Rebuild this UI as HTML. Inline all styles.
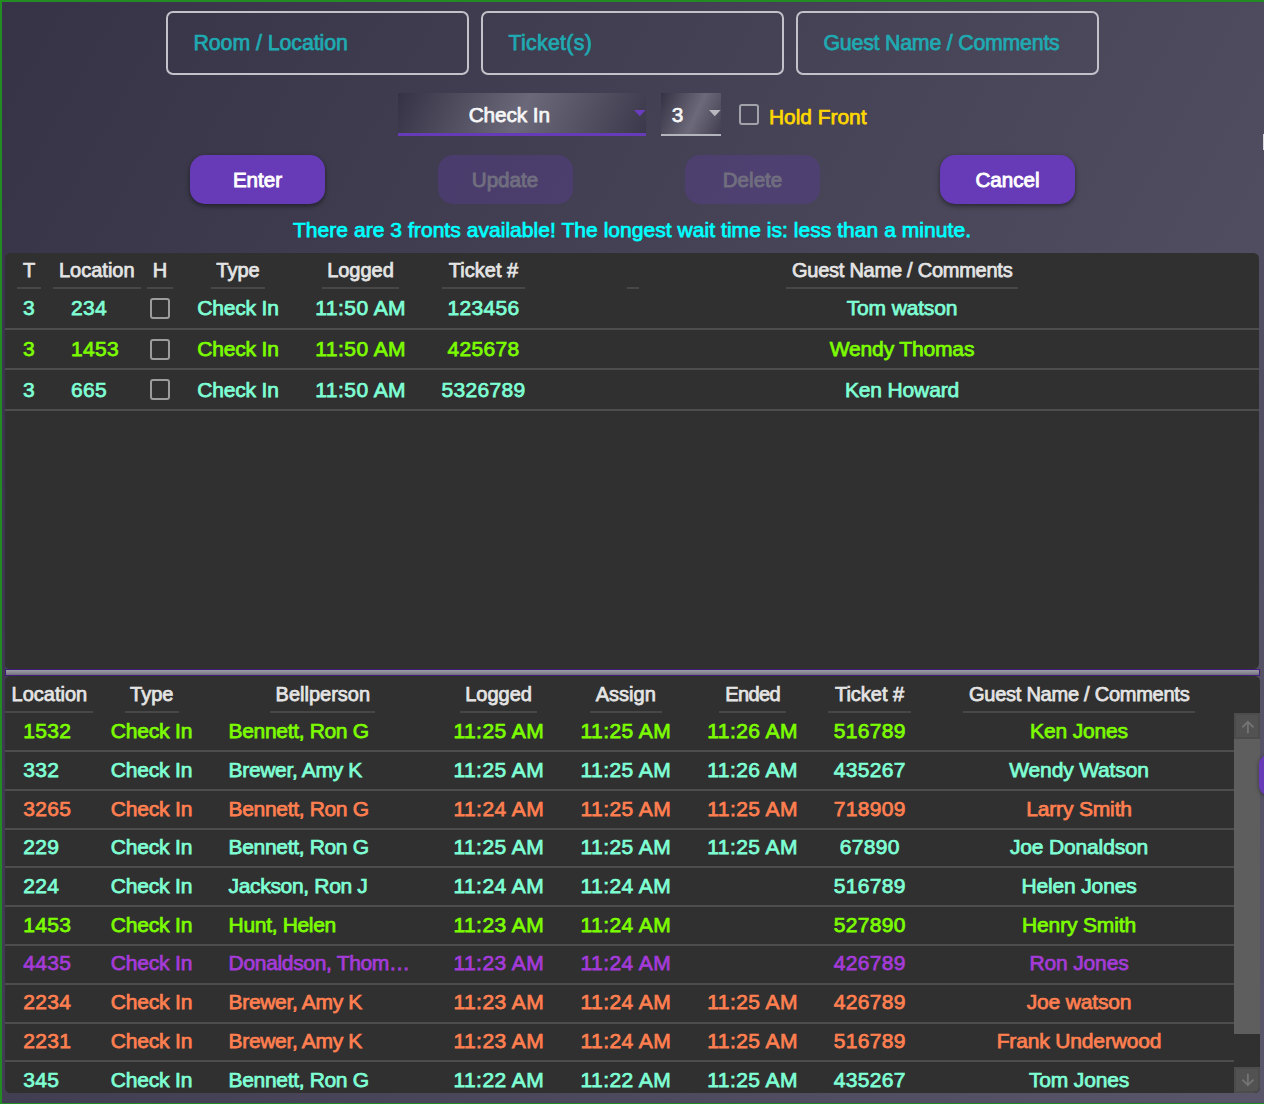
<!DOCTYPE html>
<html><head><meta charset="utf-8"><title>Bell Desk</title>
<style>
html,body{margin:0;padding:0}
body{width:1264px;height:1104px;overflow:hidden;position:relative;background:#228b22;font-family:"Liberation Sans",sans-serif;}
#bg{position:absolute;left:2px;top:2px;width:1262px;height:1101px;background:linear-gradient(119deg,#353345,#585668);box-shadow:inset 1px 1px 0 rgba(90,40,130,.22),inset 0 -1px 0 rgba(90,40,130,.22);}
.t{position:absolute;white-space:nowrap;font-size:21px;line-height:24px;-webkit-text-stroke:0.75px currentColor;letter-spacing:-0.15px}
.n{letter-spacing:0.3px}.tm{letter-spacing:0.45px}.bp{letter-spacing:-0.33px}
.t.c{transform:translate(-50%,-50%);}
.t.l{transform:translate(0,-50%);}
.h{color:#e4e4e4;font-size:20px;-webkit-text-stroke:0.75px currentColor;letter-spacing:0}
.e1{letter-spacing:-0.6px}.g1{letter-spacing:-0.25px}
.aq{color:#7fffd4}.gr{color:#7cfc00}.co{color:#ff7f50}.pu{color:#a43bd8}
.panel{position:absolute;background:#303030;border-radius:5.5px;}
.ul{position:absolute;height:2px;background:#474747;}
.sep{position:absolute;height:2px;background:#4d4d4d;}
.cb{position:absolute;width:16px;height:16.6px;border:2px solid #9c9c9c;border-radius:3px;}
.inp{position:absolute;top:10.5px;width:299.6px;height:60.6px;border:2px solid #c3c1c9;border-radius:7px;}
.ph{color:#1faab2;font-size:21.3px;letter-spacing:-0.05px}
.btn{position:absolute;top:155.3px;width:135px;height:48.4px;border-radius:15px;background:#673ab7;box-shadow:0 2px 5px rgba(0,0,0,.45);}
.btn.dis{background:rgba(100,60,175,.3);box-shadow:none;}
.bt{color:#fff;font-size:20.6px;-webkit-text-stroke:0.9px currentColor;letter-spacing:0}
.bt.d{color:#706e7f;}
</style></head><body>
<div id="bg"></div>

<div class="inp" style="left:165.5px"></div>
<div class="inp" style="left:480.5px"></div>
<div class="inp" style="left:795.5px"></div>
<span class="t l ph" style="left:193.5px;top:43px">Room / Location</span>
<span class="t l ph" style="left:508.5px;top:43px;letter-spacing:0.3px">Ticket(s)</span>
<span class="t l ph" style="left:823.5px;top:43px;letter-spacing:-0.2px">Guest Name / Comments</span>

<div style="position:absolute;left:398px;top:93px;width:248px;height:40px;background:linear-gradient(115deg,#343244 0%,#6b6979 50%,#3a384a 100%);border-bottom:3px solid #673ab7"></div>
<span class="t c" style="left:509.3px;top:114.5px;color:#f6f6f6;font-size:20.8px;letter-spacing:-0.1px">Check In</span>
<svg style="position:absolute;left:634px;top:110px" width="12" height="7"><path d="M0 0h11.6L5.8 6.2z" fill="#6a3cc0"/></svg>
<div style="position:absolute;left:661px;top:93px;width:60px;height:41px;background:linear-gradient(115deg,#343244 0%,#6c6a7a 57%,#403e50 100%);border-bottom:2px solid #b4b4bc"></div>
<span class="t c" style="left:677.5px;top:114.5px;color:#f6f6f6;font-size:20.8px">3</span>
<svg style="position:absolute;left:709px;top:110px" width="12" height="7"><path d="M0 0h11.6L5.8 6.2z" fill="#b8b8be"/></svg>
<i class="cb" style="left:739px;top:104.2px;height:16.8px;border-color:#a2a2aa"></i>
<span class="t l" style="left:769px;top:116.5px;color:#ffd700;font-size:20.9px;letter-spacing:0">Hold Front</span>

<div class="btn" style="left:189.5px"></div><span class="t c bt" style="left:257.5px;top:180px">Enter</span>
<div class="btn dis" style="left:437.5px"></div><span class="t c bt d" style="left:505px;top:180px">Update</span>
<div class="btn dis" style="left:684.5px"></div><span class="t c bt d" style="left:752.5px;top:180px">Delete</span>
<div class="btn" style="left:939.5px"></div><span class="t c bt" style="left:1007.5px;top:180px">Cancel</span>

<span class="t c" style="left:632px;top:230px;color:#00ffff;font-size:21px;letter-spacing:0.05px">There are 3 fronts available! The longest wait time is: less than a minute.</span>

<div class="panel" style="left:5px;top:252.7px;width:1254.3px;height:416px"></div>
<div style="position:absolute;left:5px;top:669px;width:1255px;height:7px;background:linear-gradient(#9c9ca8,#8a8a96 50%,#6e6e7a);border:1px solid #431c78;box-sizing:border-box"></div>
<div class="panel" style="left:5px;top:676.3px;width:1255px;height:416.7px"></div>

<!-- scrollbar -->
<div style="position:absolute;left:1234px;top:713px;width:26px;height:26px;background:#525252;border:2px solid #4c4c4c;box-sizing:border-box"></div>
<div style="position:absolute;left:1234px;top:739px;width:26px;height:294.5px;background:#5e5e5e"></div>
<div style="position:absolute;left:1234px;top:1067px;width:26px;height:26px;background:#525252;border:2px solid #4c4c4c;box-sizing:border-box;border-radius:0 0 6px 0"></div>
<svg style="position:absolute;left:1240px;top:719px" width="16" height="16" fill="none" stroke="#737373" stroke-width="1.9"><path d="M7.9 14.2V2.8M2.3 8.4l5.6-5.6 5.6 5.6"/></svg>
<svg style="position:absolute;left:1240px;top:1072px" width="16" height="16" fill="none" stroke="#737373" stroke-width="1.9"><path d="M7.9 1.8v11.4M2.3 7.6l5.6 5.6 5.6-5.6"/></svg>

<!-- peeking button at right -->
<div style="position:absolute;left:1259.4px;top:755px;width:40px;height:40px;border-radius:9px;background:#673ab7;box-shadow:0 1px 4px rgba(0,0,0,.4)"></div>
<div style="position:absolute;left:1263px;top:134px;width:1px;height:16px;background:#d8d8de"></div>

<span class="t c h" style="left:29px;top:270px">T</span>
<span class="t l h" style="left:59px;top:270px">Location</span>
<span class="t c h" style="left:160px;top:270px">H</span>
<span class="t c h" style="left:238px;top:270px">Type</span>
<span class="t c h" style="left:360.5px;top:270px">Logged</span>
<span class="t c h" style="left:483.5px;top:270px">Ticket #</span>
<span class="t c h g1" style="left:902.2px;top:270px">Guest Name / Comments</span>
<i class="ul" style="left:17px;width:24px;top:287.2px"></i>
<i class="ul" style="left:53px;width:88px;top:287.2px"></i>
<i class="ul" style="left:147px;width:26px;top:287.2px"></i>
<i class="ul" style="left:211px;width:54px;top:287.2px"></i>
<i class="ul" style="left:322px;width:77px;top:287.2px"></i>
<i class="ul" style="left:442px;width:83px;top:287.2px"></i>
<i class="ul" style="left:627px;width:12px;top:287.2px"></i>
<i class="ul" style="left:786px;width:232px;top:287.2px"></i>
<span class="t c aq n" style="left:29px;top:308.3px">3</span>
<span class="t l aq n" style="left:71px;top:308.3px">234</span>
<i class="cb" style="left:150px;top:298.1px"></i>
<span class="t c aq" style="left:238px;top:308.3px">Check In</span>
<span class="t c aq tm" style="left:360.7px;top:308.3px">11:50 AM</span>
<span class="t c aq n" style="left:483.5px;top:308.3px">123456</span>
<span class="t c aq" style="left:902px;top:308.3px">Tom watson</span>
<span class="t c gr n" style="left:29px;top:349.2px">3</span>
<span class="t l gr n" style="left:71px;top:349.2px">1453</span>
<i class="cb" style="left:150px;top:339.0px"></i>
<span class="t c gr" style="left:238px;top:349.2px">Check In</span>
<span class="t c gr tm" style="left:360.7px;top:349.2px">11:50 AM</span>
<span class="t c gr n" style="left:483.5px;top:349.2px">425678</span>
<span class="t c gr" style="left:902px;top:349.2px">Wendy Thomas</span>
<span class="t c aq n" style="left:29px;top:389.5px">3</span>
<span class="t l aq n" style="left:71px;top:389.5px">665</span>
<i class="cb" style="left:150px;top:379.3px"></i>
<span class="t c aq" style="left:238px;top:389.5px">Check In</span>
<span class="t c aq tm" style="left:360.7px;top:389.5px">11:50 AM</span>
<span class="t c aq n" style="left:483.5px;top:389.5px">5326789</span>
<span class="t c aq" style="left:902px;top:389.5px">Ken Howard</span>
<i class="sep" style="left:5px;width:1254px;top:328px"></i>
<i class="sep" style="left:5px;width:1254px;top:368px"></i>
<i class="sep" style="left:5px;width:1254px;top:408.6px"></i>
<span class="t l h" style="left:11.6px;top:694px">Location</span>
<span class="t c h" style="left:151.8px;top:694px">Type</span>
<span class="t c h" style="left:322.8px;top:694px">Bellperson</span>
<span class="t c h" style="left:498.6px;top:694px">Logged</span>
<span class="t c h" style="left:625.8px;top:694px">Assign</span>
<span class="t c h e1" style="left:752.6px;top:694px">Ended</span>
<span class="t c h" style="left:869.6px;top:694px">Ticket #</span>
<span class="t c h g1" style="left:1079.2px;top:694px">Guest Name / Comments</span>
<i class="ul" style="left:5px;width:88px;top:711.2px"></i>
<i class="ul" style="left:125px;width:54px;top:711.2px"></i>
<i class="ul" style="left:270px;width:105px;top:711.2px"></i>
<i class="ul" style="left:460px;width:77px;top:711.2px"></i>
<i class="ul" style="left:590px;width:72px;top:711.2px"></i>
<i class="ul" style="left:719px;width:67px;top:711.2px"></i>
<i class="ul" style="left:828px;width:83px;top:711.2px"></i>
<i class="ul" style="left:963px;width:232px;top:711.2px"></i>
<span class="t l gr n" style="left:23.3px;top:731.1px">1532</span>
<span class="t c gr" style="left:151.5px;top:731.1px">Check In</span>
<span class="t l gr bp" style="left:228.6px;top:731.1px">Bennett, Ron G</span>
<span class="t c gr tm" style="left:498.8px;top:731.1px">11:25 AM</span>
<span class="t c gr tm" style="left:625.9px;top:731.1px">11:25 AM</span>
<span class="t c gr tm" style="left:752.6px;top:731.1px">11:26 AM</span>
<span class="t c gr n" style="left:869.8px;top:731.1px">516789</span>
<span class="t c gr" style="left:1079px;top:731.1px">Ken Jones</span>
<i class="sep" style="left:5px;width:1229px;top:750.1px"></i>
<span class="t l aq n" style="left:23.3px;top:769.82px">332</span>
<span class="t c aq" style="left:151.5px;top:769.82px">Check In</span>
<span class="t l aq bp" style="left:228.6px;top:769.82px">Brewer, Amy K</span>
<span class="t c aq tm" style="left:498.8px;top:769.82px">11:25 AM</span>
<span class="t c aq tm" style="left:625.9px;top:769.82px">11:25 AM</span>
<span class="t c aq tm" style="left:752.6px;top:769.82px">11:26 AM</span>
<span class="t c aq n" style="left:869.8px;top:769.82px">435267</span>
<span class="t c aq" style="left:1079px;top:769.82px">Wendy Watson</span>
<i class="sep" style="left:5px;width:1229px;top:788.88px"></i>
<span class="t l co n" style="left:23.3px;top:808.54px">3265</span>
<span class="t c co" style="left:151.5px;top:808.54px">Check In</span>
<span class="t l co bp" style="left:228.6px;top:808.54px">Bennett, Ron G</span>
<span class="t c co tm" style="left:498.8px;top:808.54px">11:24 AM</span>
<span class="t c co tm" style="left:625.9px;top:808.54px">11:25 AM</span>
<span class="t c co tm" style="left:752.6px;top:808.54px">11:25 AM</span>
<span class="t c co n" style="left:869.8px;top:808.54px">718909</span>
<span class="t c co" style="left:1079px;top:808.54px">Larry Smith</span>
<i class="sep" style="left:5px;width:1229px;top:827.66px"></i>
<span class="t l aq n" style="left:23.3px;top:847.26px">229</span>
<span class="t c aq" style="left:151.5px;top:847.26px">Check In</span>
<span class="t l aq bp" style="left:228.6px;top:847.26px">Bennett, Ron G</span>
<span class="t c aq tm" style="left:498.8px;top:847.26px">11:25 AM</span>
<span class="t c aq tm" style="left:625.9px;top:847.26px">11:25 AM</span>
<span class="t c aq tm" style="left:752.6px;top:847.26px">11:25 AM</span>
<span class="t c aq n" style="left:869.8px;top:847.26px">67890</span>
<span class="t c aq" style="left:1079px;top:847.26px">Joe Donaldson</span>
<i class="sep" style="left:5px;width:1229px;top:866.44px"></i>
<span class="t l aq n" style="left:23.3px;top:885.98px">224</span>
<span class="t c aq" style="left:151.5px;top:885.98px">Check In</span>
<span class="t l aq bp" style="left:228.6px;top:885.98px">Jackson, Ron J</span>
<span class="t c aq tm" style="left:498.8px;top:885.98px">11:24 AM</span>
<span class="t c aq tm" style="left:625.9px;top:885.98px">11:24 AM</span>
<span class="t c aq n" style="left:869.8px;top:885.98px">516789</span>
<span class="t c aq" style="left:1079px;top:885.98px">Helen Jones</span>
<i class="sep" style="left:5px;width:1229px;top:905.22px"></i>
<span class="t l gr n" style="left:23.3px;top:924.7px">1453</span>
<span class="t c gr" style="left:151.5px;top:924.7px">Check In</span>
<span class="t l gr bp" style="left:228.6px;top:924.7px">Hunt, Helen</span>
<span class="t c gr tm" style="left:498.8px;top:924.7px">11:23 AM</span>
<span class="t c gr tm" style="left:625.9px;top:924.7px">11:24 AM</span>
<span class="t c gr n" style="left:869.8px;top:924.7px">527890</span>
<span class="t c gr" style="left:1079px;top:924.7px">Henry Smith</span>
<i class="sep" style="left:5px;width:1229px;top:944.0px"></i>
<span class="t l pu n" style="left:23.3px;top:963.42px">4435</span>
<span class="t c pu" style="left:151.5px;top:963.42px">Check In</span>
<span class="t l pu bp" style="left:228.6px;top:963.42px">Donaldson, Thom…</span>
<span class="t c pu tm" style="left:498.8px;top:963.42px">11:23 AM</span>
<span class="t c pu tm" style="left:625.9px;top:963.42px">11:24 AM</span>
<span class="t c pu n" style="left:869.8px;top:963.42px">426789</span>
<span class="t c pu" style="left:1079px;top:963.42px">Ron Jones</span>
<i class="sep" style="left:5px;width:1229px;top:982.78px"></i>
<span class="t l co n" style="left:23.3px;top:1002.14px">2234</span>
<span class="t c co" style="left:151.5px;top:1002.14px">Check In</span>
<span class="t l co bp" style="left:228.6px;top:1002.14px">Brewer, Amy K</span>
<span class="t c co tm" style="left:498.8px;top:1002.14px">11:23 AM</span>
<span class="t c co tm" style="left:625.9px;top:1002.14px">11:24 AM</span>
<span class="t c co tm" style="left:752.6px;top:1002.14px">11:25 AM</span>
<span class="t c co n" style="left:869.8px;top:1002.14px">426789</span>
<span class="t c co" style="left:1079px;top:1002.14px">Joe watson</span>
<i class="sep" style="left:5px;width:1229px;top:1021.56px"></i>
<span class="t l co n" style="left:23.3px;top:1040.86px">2231</span>
<span class="t c co" style="left:151.5px;top:1040.86px">Check In</span>
<span class="t l co bp" style="left:228.6px;top:1040.86px">Brewer, Amy K</span>
<span class="t c co tm" style="left:498.8px;top:1040.86px">11:23 AM</span>
<span class="t c co tm" style="left:625.9px;top:1040.86px">11:24 AM</span>
<span class="t c co tm" style="left:752.6px;top:1040.86px">11:25 AM</span>
<span class="t c co n" style="left:869.8px;top:1040.86px">516789</span>
<span class="t c co" style="left:1079px;top:1040.86px">Frank Underwood</span>
<i class="sep" style="left:5px;width:1229px;top:1060.34px"></i>
<span class="t l aq n" style="left:23.3px;top:1079.58px">345</span>
<span class="t c aq" style="left:151.5px;top:1079.58px">Check In</span>
<span class="t l aq bp" style="left:228.6px;top:1079.58px">Bennett, Ron G</span>
<span class="t c aq tm" style="left:498.8px;top:1079.58px">11:22 AM</span>
<span class="t c aq tm" style="left:625.9px;top:1079.58px">11:22 AM</span>
<span class="t c aq tm" style="left:752.6px;top:1079.58px">11:25 AM</span>
<span class="t c aq n" style="left:869.8px;top:1079.58px">435267</span>
<span class="t c aq" style="left:1079px;top:1079.58px">Tom Jones</span>
</body></html>
